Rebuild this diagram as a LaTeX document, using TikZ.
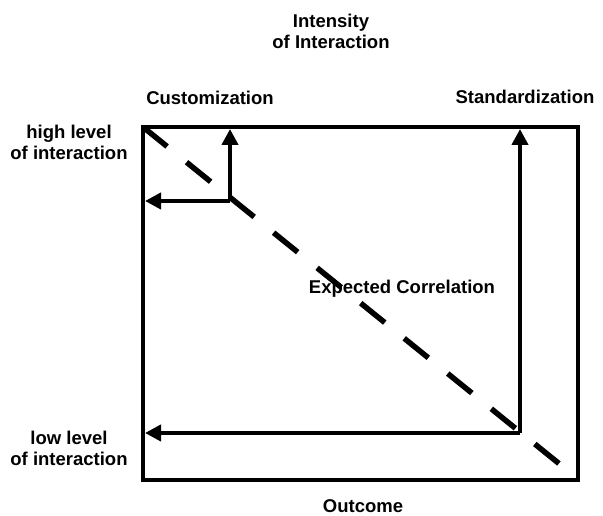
\documentclass[tikz,border=0pt]{standalone}
\usepackage{fontspec}
\setmainfont{Liberation Sans}
\usetikzlibrary{arrows.meta, positioning}

\begin{document}
\begin{tikzpicture}[
    x=1pt, y=1pt,
    label/.style={font=\fontsize{18.5}{21}\selectfont\bfseries, align=center, inner sep=0pt},
    frame/.style={draw, line width=4pt},
    arrow/.style={-{Triangle[length=16pt, width=16pt]}, line width=4pt},
    trend/.style={line width=5.5pt, dash pattern=on 31pt off 25pt}
]
    \useasboundingbox (0, 0) rectangle (603, 516);

    % Frame
    \coordinate (tl) at (143, 389);
    \coordinate (br) at (578, 36);
    \draw[frame] (tl) rectangle (br);

    % Corner points
    \coordinate (cust) at (230, 315);
    \coordinate (cust top) at (230, 387);
    \coordinate (cust left) at (145, 315);
    \coordinate (std) at (520, 83);
    \coordinate (std top) at (520, 387);
    \coordinate (std left) at (145, 83);
    \coordinate (trend end) at (562, 50);

    % Arrows
    \draw[arrow] (cust) -- (cust top);
    \draw[arrow] (cust) -- (cust left);
    \draw[arrow] (std) -- (std top);
    \draw[arrow] (std) -- (std left);

    % Expected correlation
    \draw[trend] (tl) -- (trend end);

    % Labels
    \node[label] (intensity) at (331, 485) {Intensity\\of Interaction};
    \node[label] (customization) at (210, 418) {Customization};
    \node[label] (standardization) at (525, 419) {Standardization};
    \node[label] (high) at (69, 374) {high level\\of interaction};
    \node[label] (low) at (69, 68) {low level\\of interaction};
    \node[label] (expected) at (402, 227) {Expected Correlation};
    \node[label] (outcome) at (363, 10) {Outcome};

\end{tikzpicture}
\end{document}
